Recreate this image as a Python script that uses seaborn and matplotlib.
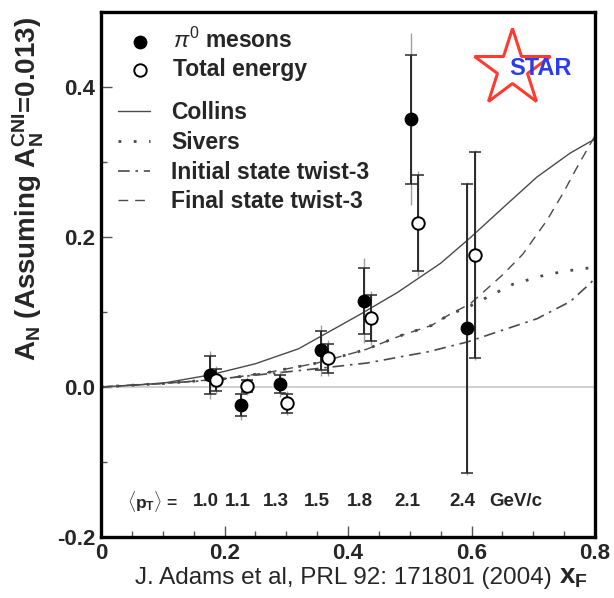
import numpy as np
import pandas as pd
import matplotlib
matplotlib.use("Agg")
import matplotlib.pyplot as plt
import seaborn as sns
from matplotlib.ticker import MultipleLocator, FixedLocator

# ---------------- data ----------------
pi0_xf = [0.176, 0.227, 0.290, 0.356, 0.426, 0.502, 0.592]
pi0_an = [0.016, -0.024, 0.004, 0.049, 0.115, 0.357, 0.078]
pi0_stat = [0.025, 0.015, 0.012, 0.026, 0.044, 0.086, 0.193]
pi0_sys = [0.032, 0.020, 0.017, 0.034, 0.057, 0.115, 0.195]

tot_xf = [0.187, 0.237, 0.302, 0.368, 0.437, 0.513, 0.606]
tot_an = [0.009, 0.001, -0.022, 0.038, 0.092, 0.218, 0.176]
tot_stat = [0.015, 0.008, 0.013, 0.019, 0.031, 0.064, 0.137]
tot_sys = [0.019, 0.012, 0.016, 0.024, 0.036, 0.070, 0.140]

pt_values = ["1.0", "1.1", "1.3", "1.5", "1.8", "2.1", "2.4"]

collins_x = [0, 0.10, 0.176, 0.25, 0.32, 0.42, 0.48, 0.55, 0.598, 0.651, 0.706, 0.76, 0.792, 0.80]
collins_y = [0, 0.005, 0.016, 0.031, 0.051, 0.097, 0.126, 0.165, 0.199, 0.239, 0.280, 0.312, 0.327, 0.330]

sivers_x = [0, 0.107, 0.20, 0.268, 0.35, 0.429, 0.487, 0.535, 0.563, 0.598, 0.631, 0.667, 0.722, 0.779, 0.80]
sivers_y = [0, 0.005, 0.011, 0.019, 0.032, 0.050, 0.069, 0.082, 0.096, 0.108, 0.122, 0.137, 0.150, 0.158, 0.159]

initial_x = [0, 0.16, 0.322, 0.431, 0.53, 0.593, 0.651, 0.706, 0.76, 0.792, 0.80]
initial_y = [0, 0.008, 0.022, 0.032, 0.047, 0.060, 0.076, 0.091, 0.114, 0.138, 0.145]

final_x = [0, 0.107, 0.20, 0.268, 0.35, 0.429, 0.487, 0.535, 0.563, 0.598, 0.651, 0.683, 0.722, 0.748, 0.771, 0.80]
final_y = [0, 0.005, 0.011, 0.019, 0.032, 0.050, 0.069, 0.082, 0.096, 0.111, 0.150, 0.177, 0.222, 0.258, 0.293, 0.335]

x_ticks = [0, 0.2, 0.4, 0.6, 0.8]
x_ticklabels = ["0", "0.2", "0.4", "0.6", "0.8"]
y_ticks = [-0.2, 0.0, 0.2, 0.4]
y_ticklabels = ["-0.2", "0.0", "0.2", "0.4"]

# ---------------- style ----------------
sns.set_style("white")
plt.rcParams["font.family"] = ["Liberation Sans", "DejaVu Sans"]
plt.rcParams["mathtext.fontset"] = "custom"
plt.rcParams["mathtext.rm"] = "Liberation Sans"
plt.rcParams["mathtext.bf"] = "Liberation Sans:bold"
plt.rcParams["mathtext.it"] = "Liberation Sans:italic"

fig = plt.figure(figsize=(6.14, 5.98), dpi=100)
ax = fig.add_axes([101 / 614, 1 - 537 / 598, 494 / 614, 525 / 598])

curve_color = "#4a4a4a"
ax.axhline(0, color="#c8c8c8", lw=1.2, zorder=1)

curves = [
    (collins_x, collins_y, "Collins", "-", 1.0),
    (sivers_x, sivers_y, "Sivers", (0, (1, 4.5)), 2.0),
    (initial_x, initial_y, "Initial state twist-3", (0, (7, 3.5, 1.5, 3.5)), 1.2),
    (final_x, final_y, "Final state twist-3", (0, (7, 5)), 1.0),
]
line_handles = []
for xs, ys, lab, ls, lw in curves:
    df = pd.DataFrame({"x": xs, "y": ys})
    sns.lineplot(data=df, x="x", y="y", ax=ax, color=curve_color, lw=lw,
                 linestyle=ls, sort=False, estimator=None, label=lab, zorder=2)
    line_handles.append(ax.lines[-1])

# error bars: systematic (light) and statistical (dark)
ax.errorbar(pi0_xf, pi0_an, yerr=pi0_sys, fmt="none", ecolor="#a0a0a0",
            elinewidth=1.0, capsize=0, zorder=3)
ax.errorbar(tot_xf, tot_an, yerr=tot_sys, fmt="none", ecolor="#a0a0a0",
            elinewidth=1.0, capsize=0, zorder=3)
ax.errorbar(pi0_xf, pi0_an, yerr=pi0_stat, fmt="none", ecolor="#2a2a2a",
            elinewidth=1.4, capsize=4, capthick=1.1, zorder=4)
ax.errorbar(tot_xf, tot_an, yerr=tot_stat, fmt="none", ecolor="#2a2a2a",
            elinewidth=1.4, capsize=4, capthick=1.1, zorder=4)

pdf = pd.DataFrame({"x": pi0_xf, "y": pi0_an})
tdf = pd.DataFrame({"x": tot_xf, "y": tot_an})
sns.scatterplot(data=pdf, x="x", y="y", ax=ax, color="black", s=80,
                edgecolor="black", linewidth=1.0, zorder=6, label=r"$\pi^{0}$ mesons")
h_pi = ax.collections[-1]
sns.scatterplot(data=tdf, x="x", y="y", ax=ax, facecolor="white", s=80,
                edgecolor="black", linewidth=1.4, zorder=7, label="Total energy")
h_tot = ax.collections[-1]

ax.set_xlim(0, 0.8)
ax.set_ylim(-0.2, 0.5)

# ticks
ax.xaxis.set_major_locator(FixedLocator(x_ticks))
ax.set_xticklabels(x_ticklabels)
ax.yaxis.set_major_locator(FixedLocator(y_ticks))
ax.set_yticklabels(y_ticklabels)
ax.xaxis.set_minor_locator(MultipleLocator(0.05))
ax.yaxis.set_minor_locator(MultipleLocator(0.1))
ax.tick_params(which="both", direction="in", top=False, right=False,
               bottom=True, left=True, color="#555555", width=1.0)
ax.tick_params(which="major", length=8, labelsize=16, pad=4)
ax.tick_params(which="minor", length=4)
for lab in ax.get_xticklabels() + ax.get_yticklabels():
    lab.set_fontweight("bold")

for sp in ax.spines.values():
    sp.set_visible(True)
    sp.set_linewidth(2.4)
    sp.set_color("black")

# axis labels
ax.set_ylabel(r"$\mathbf{A_N}$ (Assuming $\mathbf{A_N^{CNI}}$=0.013)",
              fontsize=20, fontweight="bold", loc="top")
ax.yaxis.set_label_coords(-0.112, 0.99)
ax.set_xlabel(r"$\mathbf{x_F}$", fontsize=20, fontweight="bold", loc="right")
ax.xaxis.set_label_coords(0.985, -0.052)

# legends
leg1 = ax.legend(handles=[h_pi, h_tot], labels=[r"$\pi^{0}$ mesons", "Total energy"],
                 loc="upper left", bbox_to_anchor=(0.055, 0.97), frameon=False,
                 prop={"weight": "bold", "size": 16.5}, borderpad=0, borderaxespad=0,
                 handlelength=1.0, handletextpad=0.95, labelspacing=0.22,
                 markerscale=1.0)
ax.add_artist(leg1)
ax.legend(handles=line_handles,
          labels=["Collins", "Sivers", "Initial state twist-3", "Final state twist-3"],
          loc="upper left", bbox_to_anchor=(0.035, 0.83), frameon=False,
          prop={"weight": "bold", "size": 16.5}, borderpad=0, borderaxespad=0,
          handlelength=1.4, handletextpad=0.9, labelspacing=0.29)

# <pT> row
pt_y = -0.153
ax.text(0.125, pt_y, r"$\langle\mathbf{p_T}\rangle$ =", ha="right", va="center",
        fontsize=12.5, fontweight="bold")
for xv, txt in zip(pi0_xf, pt_values):
    ax.text(xv - 0.006, pt_y, txt, ha="center", va="center", fontsize=13.5, fontweight="bold")
ax.text(0.672, pt_y, "GeV/c", ha="center", va="center", fontsize=13.5, fontweight="bold")

# STAR logo
ax.plot([0.832], [0.893], transform=ax.transAxes, marker="*", ms=58,
        mfc="white", mec="#ff3b30", mew=2.2, zorder=8, clip_on=False)
ax.text(0.889, 0.893, "STAR", transform=ax.transAxes, ha="center", va="center",
        fontsize=17, fontweight="bold", color="#2b3bf0", zorder=9)

# citation
fig.text(0.56, 1 - 578 / 598, "J. Adams et al, PRL 92: 171801 (2004)",
         ha="center", va="center", fontsize=17.5)

fig.savefig("out.png", dpi=100)
